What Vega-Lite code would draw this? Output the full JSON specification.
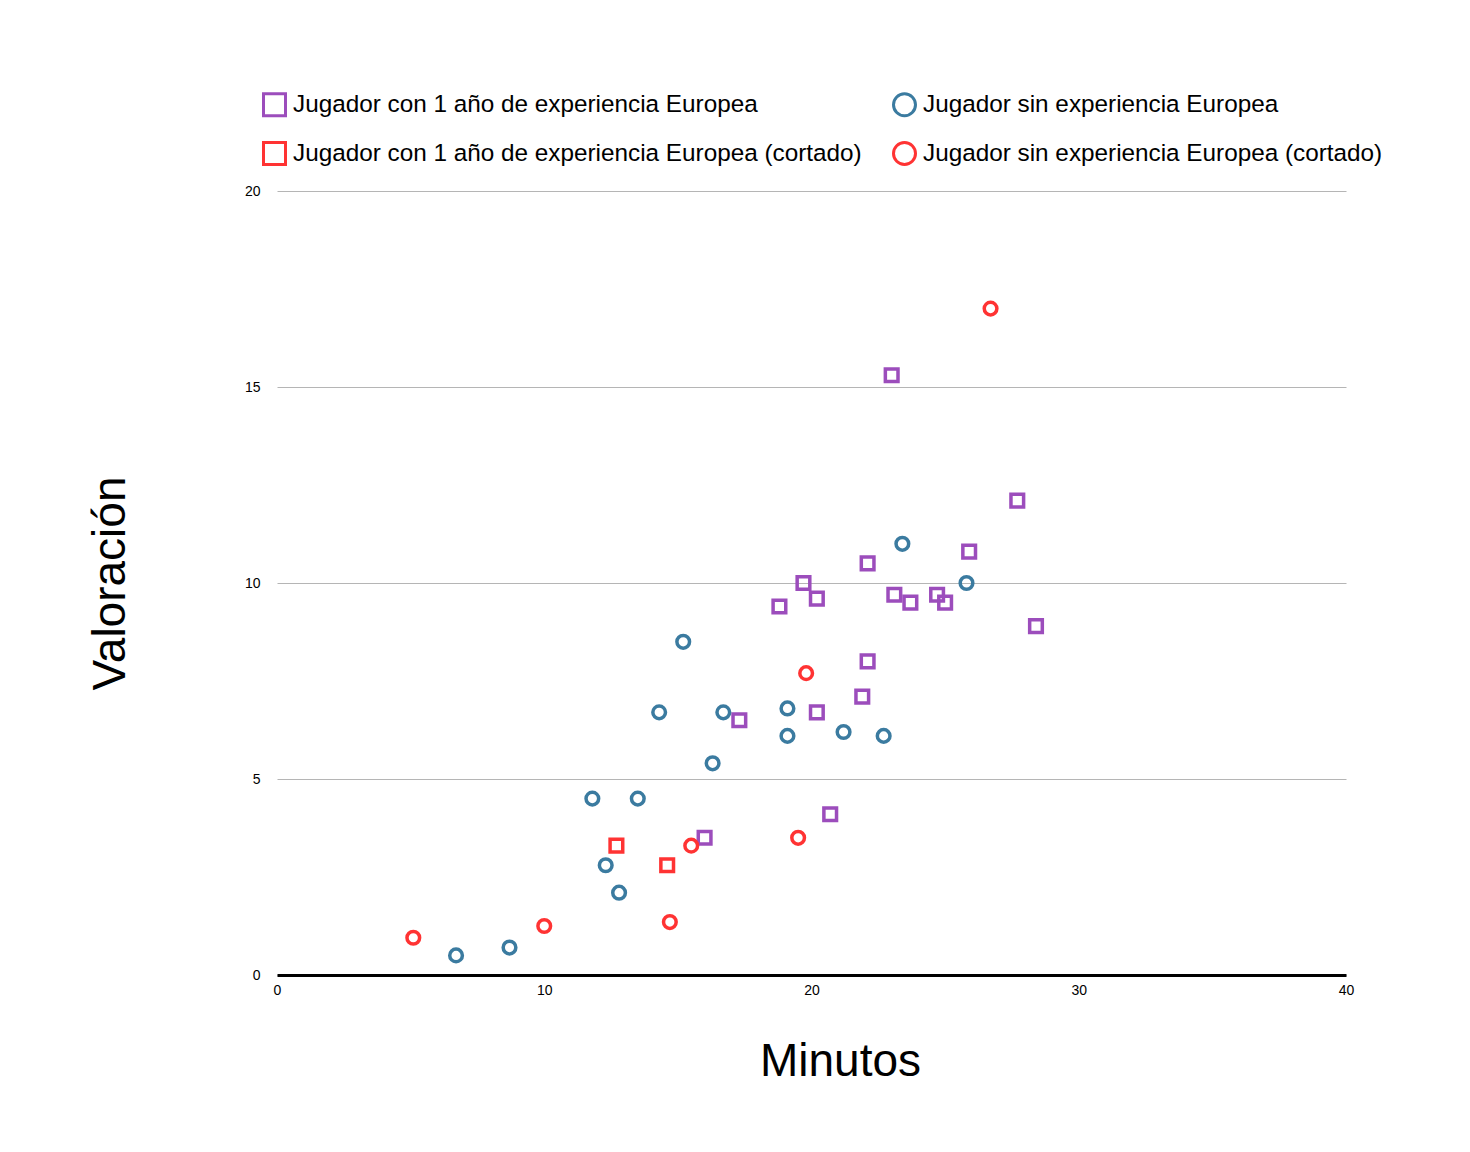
{
  "$schema": "https://vega.github.io/schema/vega-lite/v6.json",
  "width": 1069,
  "height": 784,
  "autosize": {"type": "none"},
  "padding": {"left": 277, "top": 191, "right": 124, "bottom": 177},
  "background": "white",
  "data": {
    "values": [
      {"minutos": 23.0, "valoracion": 15.3, "grupo": "Jugador con 1 año de experiencia Europea"},
      {"minutos": 27.7, "valoracion": 12.1, "grupo": "Jugador con 1 año de experiencia Europea"},
      {"minutos": 25.9, "valoracion": 10.8, "grupo": "Jugador con 1 año de experiencia Europea"},
      {"minutos": 22.1, "valoracion": 10.5, "grupo": "Jugador con 1 año de experiencia Europea"},
      {"minutos": 19.7, "valoracion": 10.0, "grupo": "Jugador con 1 año de experiencia Europea"},
      {"minutos": 20.2, "valoracion": 9.6, "grupo": "Jugador con 1 año de experiencia Europea"},
      {"minutos": 18.8, "valoracion": 9.4, "grupo": "Jugador con 1 año de experiencia Europea"},
      {"minutos": 23.1, "valoracion": 9.7, "grupo": "Jugador con 1 año de experiencia Europea"},
      {"minutos": 23.7, "valoracion": 9.5, "grupo": "Jugador con 1 año de experiencia Europea"},
      {"minutos": 24.7, "valoracion": 9.7, "grupo": "Jugador con 1 año de experiencia Europea"},
      {"minutos": 25.0, "valoracion": 9.5, "grupo": "Jugador con 1 año de experiencia Europea"},
      {"minutos": 28.4, "valoracion": 8.9, "grupo": "Jugador con 1 año de experiencia Europea"},
      {"minutos": 22.1, "valoracion": 8.0, "grupo": "Jugador con 1 año de experiencia Europea"},
      {"minutos": 21.9, "valoracion": 7.1, "grupo": "Jugador con 1 año de experiencia Europea"},
      {"minutos": 20.2, "valoracion": 6.7, "grupo": "Jugador con 1 año de experiencia Europea"},
      {"minutos": 17.3, "valoracion": 6.5, "grupo": "Jugador con 1 año de experiencia Europea"},
      {"minutos": 20.7, "valoracion": 4.1, "grupo": "Jugador con 1 año de experiencia Europea"},
      {"minutos": 16.0, "valoracion": 3.5, "grupo": "Jugador con 1 año de experiencia Europea"},
      {"minutos": 12.7, "valoracion": 3.3, "grupo": "Jugador con 1 año de experiencia Europea (cortado)"},
      {"minutos": 14.6, "valoracion": 2.8, "grupo": "Jugador con 1 año de experiencia Europea (cortado)"},
      {"minutos": 23.4, "valoracion": 11.0, "grupo": "Jugador sin experiencia Europea"},
      {"minutos": 25.8, "valoracion": 10.0, "grupo": "Jugador sin experiencia Europea"},
      {"minutos": 15.2, "valoracion": 8.5, "grupo": "Jugador sin experiencia Europea"},
      {"minutos": 14.3, "valoracion": 6.7, "grupo": "Jugador sin experiencia Europea"},
      {"minutos": 16.7, "valoracion": 6.7, "grupo": "Jugador sin experiencia Europea"},
      {"minutos": 19.1, "valoracion": 6.8, "grupo": "Jugador sin experiencia Europea"},
      {"minutos": 19.1, "valoracion": 6.1, "grupo": "Jugador sin experiencia Europea"},
      {"minutos": 21.2, "valoracion": 6.2, "grupo": "Jugador sin experiencia Europea"},
      {"minutos": 22.7, "valoracion": 6.1, "grupo": "Jugador sin experiencia Europea"},
      {"minutos": 16.3, "valoracion": 5.4, "grupo": "Jugador sin experiencia Europea"},
      {"minutos": 11.8, "valoracion": 4.5, "grupo": "Jugador sin experiencia Europea"},
      {"minutos": 13.5, "valoracion": 4.5, "grupo": "Jugador sin experiencia Europea"},
      {"minutos": 12.3, "valoracion": 2.8, "grupo": "Jugador sin experiencia Europea"},
      {"minutos": 12.8, "valoracion": 2.1, "grupo": "Jugador sin experiencia Europea"},
      {"minutos": 8.7, "valoracion": 0.7, "grupo": "Jugador sin experiencia Europea"},
      {"minutos": 6.7, "valoracion": 0.5, "grupo": "Jugador sin experiencia Europea"},
      {"minutos": 26.7, "valoracion": 17.0, "grupo": "Jugador sin experiencia Europea (cortado)"},
      {"minutos": 19.8, "valoracion": 7.7, "grupo": "Jugador sin experiencia Europea (cortado)"},
      {"minutos": 19.5, "valoracion": 3.5, "grupo": "Jugador sin experiencia Europea (cortado)"},
      {"minutos": 15.5, "valoracion": 3.3, "grupo": "Jugador sin experiencia Europea (cortado)"},
      {"minutos": 10.0, "valoracion": 1.25, "grupo": "Jugador sin experiencia Europea (cortado)"},
      {"minutos": 14.7, "valoracion": 1.35, "grupo": "Jugador sin experiencia Europea (cortado)"},
      {"minutos": 5.1, "valoracion": 0.95, "grupo": "Jugador sin experiencia Europea (cortado)"}
    ]
  },
  "mark": {"type": "point", "filled": false, "strokeWidth": 3.5, "size": 160, "opacity": 1},
  "encoding": {
    "x": {
      "field": "minutos", "type": "quantitative",
      "scale": {"domain": [0, 40], "nice": false},
      "axis": {
        "values": [0, 10, 20, 30, 40], "grid": false, "ticks": false, "labelFlush": false,
        "domainColor": "black", "domainWidth": 3,
        "labelFont": "Liberation Sans", "labelFontSize": 14, "labelColor": "black", "labelPadding": 8,
        "title": "Minutos", "titleFont": "Liberation Sans", "titleFontSize": 46, "titleFontWeight": "normal",
        "titleColor": "black", "titleX": 563, "titleY": 100, "titleBaseline": "alphabetic"
      }
    },
    "y": {
      "field": "valoracion", "type": "quantitative",
      "scale": {"domain": [0, 20], "nice": false},
      "axis": {
        "values": [0, 5, 10, 15, 20], "grid": true, "gridColor": "#b5b5b5", "gridWidth": 1,
        "ticks": false, "domain": false,
        "labelFont": "Liberation Sans", "labelFontSize": 14, "labelColor": "black", "labelPadding": 17,
        "title": "Valoración", "titleFont": "Liberation Sans", "titleFontSize": 46, "titleFontWeight": "normal",
        "titleColor": "black", "titleX": -153, "titleY": 392, "titleBaseline": "alphabetic"
      }
    },
    "color": {
      "field": "grupo", "type": "nominal",
      "scale": {
        "domain": ["Jugador con 1 año de experiencia Europea", "Jugador con 1 año de experiencia Europea (cortado)", "Jugador sin experiencia Europea", "Jugador sin experiencia Europea (cortado)"],
        "range": ["#9C4DBC", "#FF3333", "#3B7BA0", "#FF3333"]
      },
      "legend": {
        "title": null, "orient": "none", "legendX": -15, "legendY": -99,
        "direction": "vertical", "columns": 2, "columnPadding": 25, "rowPadding": 14,
        "labelFont": "Liberation Sans", "labelFontSize": 24.3, "labelColor": "black", "labelOffset": 6, "labelLimit": 800,
        "symbolSize": 484, "symbolStrokeWidth": 3
      }
    },
    "shape": {
      "field": "grupo", "type": "nominal",
      "scale": {
        "domain": ["Jugador con 1 año de experiencia Europea", "Jugador con 1 año de experiencia Europea (cortado)", "Jugador sin experiencia Europea", "Jugador sin experiencia Europea (cortado)"],
        "range": ["square", "square", "circle", "circle"]
      },
      "legend": {
        "title": null, "orient": "none", "legendX": -15, "legendY": -99,
        "direction": "vertical", "columns": 2, "columnPadding": 25, "rowPadding": 14,
        "labelFont": "Liberation Sans", "labelFontSize": 24.3, "labelColor": "black", "labelOffset": 6, "labelLimit": 800,
        "symbolSize": 484, "symbolStrokeWidth": 3
      }
    }
  },
  "config": {"view": {"stroke": null}}
}
